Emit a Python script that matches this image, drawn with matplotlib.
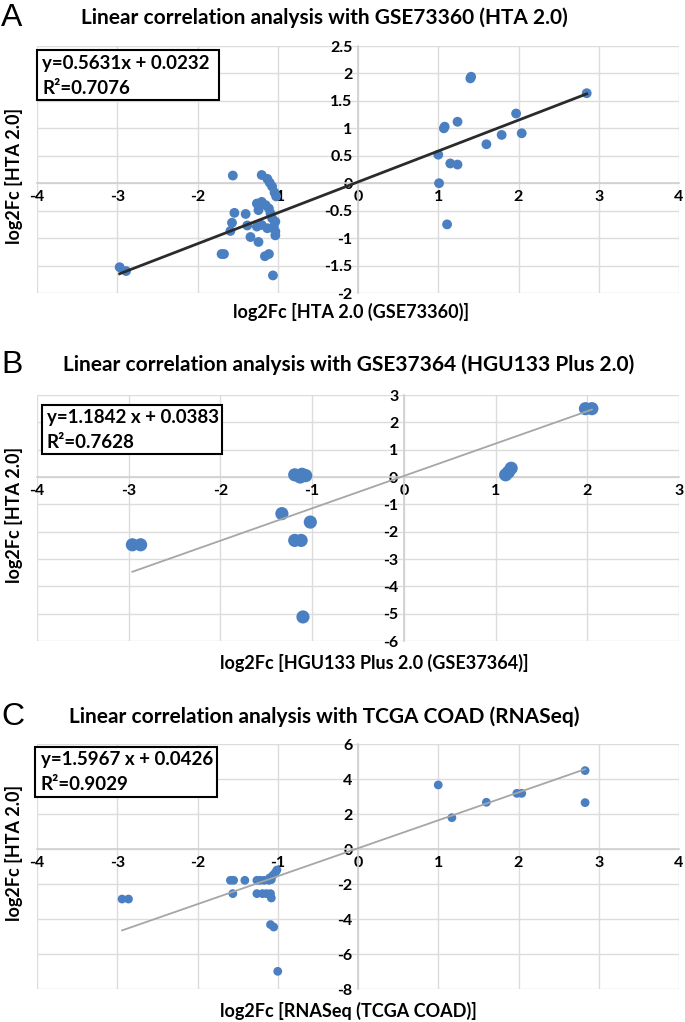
import matplotlib
matplotlib.use("Agg")
import matplotlib.pyplot as plt
from matplotlib import font_manager
from matplotlib.patches import Rectangle

# ---------------- data ----------------
a_x = [-2.97, -2.89, 1.40, 1.41, 2.85, 1.97, 1.24, 1.08, 1.07, 1.79, 2.04, 1.60, 1.00, 1.15, 1.24, 1.01, 1.11,
       -1.56, -1.20, -1.13, -1.10, -1.07, -1.04, -1.02,
       -1.26, -1.20, -1.15, -1.24, -1.11, -1.09,
       -1.54, -1.40, -1.57, -1.59, -1.38, -1.34, -1.24,
       -1.26, -1.20, -1.13, -1.07, -1.03, -1.05, -1.03, -1.03,
       -1.70, -1.67, -1.16, -1.11, -1.06]
a_y = [-1.53, -1.60, 1.91, 1.94, 1.64, 1.27, 1.12, 1.03, 1.00, 0.88, 0.91, 0.71, 0.52, 0.36, 0.34, 0.00, -0.75,
       0.14, 0.15, 0.08, 0.01, -0.06, -0.17, -0.24,
       -0.37, -0.34, -0.40, -0.49, -0.46, -0.55,
       -0.54, -0.56, -0.72, -0.87, -0.77, -0.98, -1.07,
       -0.79, -0.76, -0.82, -0.64, -0.70, -0.79, -0.88, -0.95,
       -1.29, -1.29, -1.33, -1.29, -1.68]

b_x = [-2.96, -2.87, -1.33, -1.19, -1.15, -1.11, -1.07, -1.13, -1.02, -1.19, -1.12, -1.10,
       1.11, 1.14, 1.17, 1.98, 2.05]
b_y = [-2.48, -2.48, -1.34, 0.08, 0.05, 0.10, 0.05, 0.00, -1.65, -2.32, -2.32, -5.12,
       0.08, 0.18, 0.32, 2.50, 2.50]

c_x = [-2.94, -2.86, 1.00, 1.17, 1.60, 1.98, 2.04, 2.83, 2.83,
       -1.59, -1.55, -1.41, -1.26, -1.22, -1.17, -1.11, -1.08,
       -1.10, -1.06, -1.03, -1.01,
       -1.56, -1.26, -1.19, -1.14, -1.09, -1.08,
       -1.09, -1.05, -1.00]
c_y = [-2.86, -2.86, 3.66, 1.79, 2.67, 3.18, 3.18, 4.48, 2.65,
       -1.79, -1.79, -1.79, -1.79, -1.79, -1.79, -1.79, -1.75,
       -1.65, -1.50, -1.35, -1.20,
       -2.55, -2.55, -2.55, -2.55, -2.55, -2.80,
       -4.32, -4.46, -6.99]

a_fit = (0.5631, 0.0232)
b_fit = (1.1842, 0.0383)
c_fit = (1.5967, 0.0426)

titles = ["Linear correlation analysis with GSE73360 (HTA 2.0)",
          "Linear correlation analysis with GSE37364 (HGU133 Plus 2.0)",
          "Linear correlation analysis with TCGA COAD (RNASeq)"]
xlabels = ["log2Fc [HTA 2.0 (GSE73360)]",
           "log2Fc [HGU133 Plus 2.0 (GSE37364)]",
           "log2Fc [RNASeq (TCGA COAD)]"]
ylabel = "log2Fc [HTA 2.0]"
eq_texts = [("y=0.5631x + 0.0232", "R²=0.7076"),
            ("y=1.1842 x + 0.0383", "R²=0.7628"),
            ("y=1.5967 x + 0.0426", "R²=0.9029")]
letters = ["A", "B", "C"]

a_xticks = [-4, -3, -2, -1, 0, 1, 2, 3, 4]
a_yticks = [-2, -1.5, -1, -0.5, 0, 0.5, 1, 1.5, 2, 2.5]
b_xticks = [-4, -3, -2, -1, 0, 1, 2, 3]
b_yticks = [-6, -5, -4, -3, -2, -1, 0, 1, 2, 3]
c_xticks = [-4, -3, -2, -1, 0, 1, 2, 3, 4]
c_yticks = [-8, -6, -4, -2, 0, 2, 4, 6]

# ---------------- style ----------------
avail = {f.name for f in font_manager.fontManager.ttflist}
FONT = "DejaVu Sans"
for cand in ["Liberation Sans Narrow", "Lato", "Open Sans"]:
    if cand in avail:
        FONT = cand
        break
plt.rcParams["font.family"] = [FONT, "DejaVu Sans"]
plt.rcParams["axes.unicode_minus"] = False

W, H = 685, 1022
fig = plt.figure(figsize=(W / 100, H / 100), dpi=100)
DOT = "#4a7fc1"
GRID = "#dcdcdc"


def fx(px):
    return px / W


def fy(py):
    return 1 - py / H


def make_panel(i, xs, ys, fit, xticks, yticks, box, line_color, line_w, msize,
               title_xy, letter_y, xlabel_xy, ylabel_y, text_rows):
    l, t, r, b = box
    ax = fig.add_axes([fx(l), fy(b), (r - l) / W, (b - t) / H])
    ax.set_xlim(xticks[0], xticks[-1])
    ax.set_ylim(yticks[0], yticks[-1])
    ax.set_xticks(xticks)
    ax.set_yticks(yticks)
    ax.set_xticklabels([f"{v:g}" for v in xticks])
    ax.set_yticklabels([f"{v:g}" for v in yticks])
    ax.grid(True, color=GRID, lw=1.0, zorder=0)
    ax.set_axisbelow(True)
    for s in ["top", "right"]:
        ax.spines[s].set_visible(False)
    ax.spines["left"].set_position(("data", 0))
    ax.spines["bottom"].set_position(("data", 0))
    for s in ["left", "bottom"]:
        ax.spines[s].set_color("#d0d0d0")
        ax.spines[s].set_linewidth(1.2)
    ax.tick_params(length=0, labelsize=11.5)
    ax.tick_params(axis="y", pad=4)
    ax.tick_params(axis="x", pad=5)
    for lab in ax.get_xticklabels() + ax.get_yticklabels():
        lab.set_fontweight("bold")
    ax.scatter(xs, ys, s=msize, color=DOT, edgecolors="none", zorder=3, clip_on=False)
    x0, x1 = min(xs), max(xs)
    m, c0 = fit
    ax.plot([x0, x1], [m * x0 + c0, m * x1 + c0], color=line_color, lw=line_w, zorder=4)

    fig.text(fx(title_xy[0]), fy(title_xy[1]), titles[i], ha="center", va="center",
             fontsize=15, fontweight="bold")
    fig.text(fx(1), fy(letter_y), letters[i], ha="left", va="center", fontsize=23,
             family=["Liberation Sans", "DejaVu Sans"])
    fig.text(fx(xlabel_xy[0]), fy(xlabel_xy[1]), xlabels[i], ha="center", va="center",
             fontsize=13, fontweight="bold")
    fig.text(fx(14), fy(ylabel_y), ylabel, ha="center", va="center", rotation=90,
             fontsize=13, fontweight="bold")

    (bl, bt, br, bb), tx, (r1, r2) = text_rows
    fig.patches.append(Rectangle((fx(bl), fy(bb)), (br - bl) / W, (bb - bt) / H,
                                 transform=fig.transFigure, facecolor="white",
                                 edgecolor="black", lw=1.5, zorder=5))
    fig.text(fx(tx), fy(r1), eq_texts[i][0], ha="left", va="center", fontsize=13.5,
             fontweight="bold", zorder=6)
    fig.text(fx(tx), fy(r2), eq_texts[i][1], ha="left", va="center", fontsize=13.5,
             fontweight="bold", zorder=6)
    return ax


make_panel(0, a_x, a_y, a_fit, a_xticks, a_yticks, (37, 46, 679, 293), "#2b2b2b", 2.0, 50,
           (324, 18), 18, (351, 312), 176, ((37, 50, 219, 100), 42, (63, 88)))
make_panel(1, b_x, b_y, b_fit, b_xticks, b_yticks, (37, 395, 679, 641), "#a6a6a6", 1.3, 90,
           (349, 365), 365, (374, 663), 515, ((42, 405, 222, 454), 47, (417, 443)))
make_panel(2, c_x, c_y, c_fit, c_xticks, c_yticks, (37, 744, 679, 989), "#a6a6a6", 1.3, 40,
           (324, 717), 717, (348, 1011), 853, ((35, 747, 217, 797), 41, (760, 784)))

fig.savefig("out.png", dpi=100)
